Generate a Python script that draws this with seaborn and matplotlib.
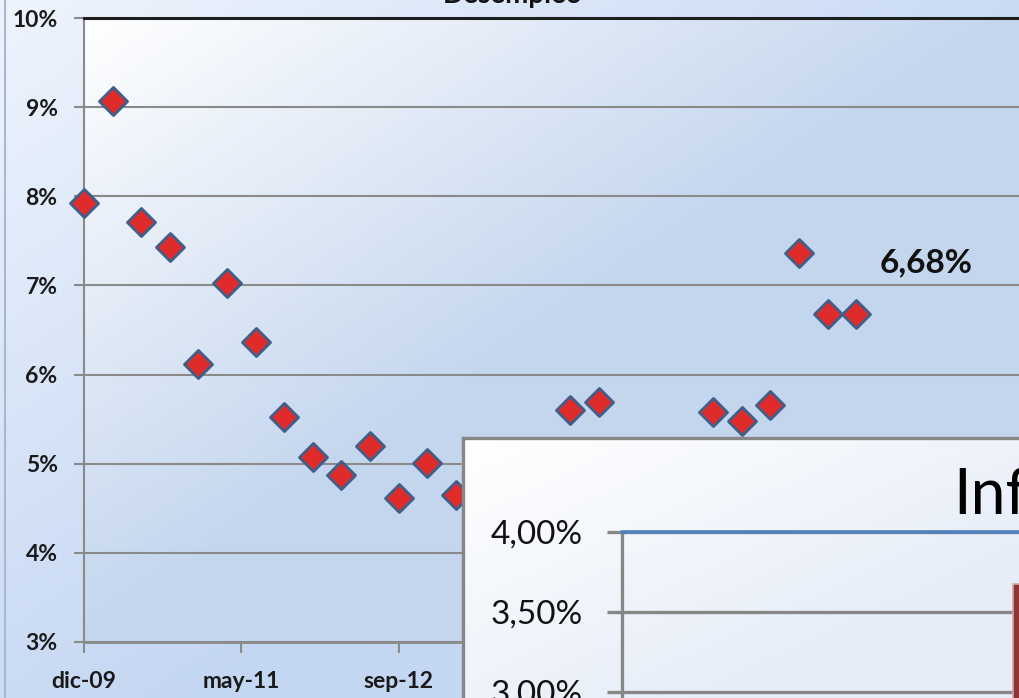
import numpy as np
import pandas as pd
import matplotlib
matplotlib.use("Agg")
import matplotlib.pyplot as plt
import seaborn as sns
from matplotlib.colors import LinearSegmentedColormap
from matplotlib.lines import Line2D

# datos (trimestral desde dic-09; los ocultos por el recuadro = NaN)
trimestre = list(range(28))
desempleo = [7.93, 9.07, 7.71, 7.43, 6.12, 7.03, 6.37, 5.52, 5.07, 4.87,
             5.20, 4.62, 5.01, 4.65, np.nan, np.nan, np.nan, 5.60, 5.69, np.nan,
             np.nan, np.nan, 5.58, 5.48, 5.66, 7.36, 6.68, 6.68]
pos_ticks_x = [0, 5.5, 11]
etiquetas_x = ["dic-09", "may-11", "sep-12"]
ticks_y = [3, 4, 5, 6, 7, 8, 9, 10]

# grafico de inflacion (solo se ve una parte)
inflacion_mes = ["dic-09"]
inflacion = [3.675]
meta_superior = 4.0
ticks_inf = [3.0, 3.5, 4.0]

df = pd.DataFrame({"trimestre": trimestre, "desempleo": desempleo})

sns.set_style("white")
plt.rcParams["font.family"] = ["Lato", "DejaVu Sans"]

W, H = 1019, 698
fig = plt.figure(figsize=(W / 100, H / 100), dpi=100)

def gradiente(ax, c0, c1, escala=1.0):
    u, v = np.meshgrid(np.linspace(0, 1, 200), np.linspace(1, 0, 200))
    t = np.clip((u + (1 - v)) / escala, 0, 1)
    cmap = LinearSegmentedColormap.from_list("g", [c0, c1])
    ax.imshow(t, extent=[0, 1, 0, 1], aspect="auto", cmap=cmap, vmin=0, vmax=1,
              origin="upper")
    ax.set_xlim(0, 1)
    ax.set_ylim(0, 1)
    ax.axis("off")

# fondo de la figura
bg = fig.add_axes([0, 0, 1, 1], zorder=-10)
gradiente(bg, "#eef4fd", "#c3d6f2", 1.2)
fig.add_artist(Line2D([5 / W, 5 / W], [0, 1], color="#a7b8d2", lw=1.5))

# area de trazado
rect = [84 / W, 1 - 642 / H, 1 - 84 / W, (642 - 18) / H]
bgp = fig.add_axes(rect, zorder=-5)
gradiente(bgp, "#ffffff", "#c4d6ee", 1.0)

ax = fig.add_axes(rect, zorder=0)
ax.set_facecolor("none")
sns.scatterplot(data=df, x="trimestre", y="desempleo", ax=ax, marker="D", s=205,
                color="#e02b2b", edgecolor="#3f5f8a", linewidth=2, zorder=3,
                clip_on=False, legend=False)
ax.set_xlim(0, (W - 84) / 28.6)
ax.set_ylim(3, 10)
ax.set_yticks(ticks_y, [f"{v}%" for v in ticks_y])
ax.set_xticks(pos_ticks_x, etiquetas_x)
ax.set_xlabel("")
ax.set_ylabel("")
ax.yaxis.grid(True, color="#8a8a8a", lw=1.5)
ax.set_axisbelow(True)
ax.spines["right"].set_visible(False)
ax.spines["top"].set_color("#1e1e1e")
ax.spines["top"].set_linewidth(2.2)
ax.spines["left"].set_color("#8a8a8a")
ax.spines["left"].set_linewidth(1.5)
ax.spines["bottom"].set_color("#8a8a8a")
ax.spines["bottom"].set_linewidth(2)
ax.tick_params(axis="y", direction="out", length=7, width=1.5, color="#8a8a8a",
               pad=12, labelsize=16.5, labelcolor="#1a1a1a", left=True)
ax.tick_params(axis="x", direction="out", length=8, width=1.5, color="#8a8a8a",
               pad=13, labelsize=16.5, labelcolor="#1a1a1a", bottom=True)
for t in ax.get_xticklabels() + ax.get_yticklabels():
    t.set_fontweight("bold")

ultimo = desempleo[-1]
ax.annotate(f"{ultimo:.2f}%".replace(".", ","), xy=(trimestre[-1], ultimo),
            xytext=(50, 37), textcoords="offset points", ha="center", va="center",
            fontsize=24, fontweight="bold", color="#111111")

fig.text(513 / W, 1 - 3 / H, "Desempleo", ha="center", va="baseline",
         fontsize=20, fontweight="bold", color="#111111")

# recuadro del grafico de inflacion
box = fig.add_axes([463 / W, 0, 1 - 463 / W, (H - 438) / H], zorder=5)
gradiente(box, "#ffffff", "#e6edf8", 1.5)
box.axis("on")
box.set_xticks([])
box.set_yticks([])
for lado in ["right", "bottom"]:
    box.spines[lado].set_visible(False)
for lado in ["left", "top"]:
    box.spines[lado].set_color("#878787")
    box.spines[lado].set_linewidth(2.4)

ins = fig.add_axes([622 / W, 0, 1 - 622 / W, 1 - 532 / H], zorder=6)
ins.set_facecolor("none")
ins.bar(inflacion_mes, inflacion, width=0.8, color="#8e3535", edgecolor="#d7a3a3",
        linewidth=1.2, zorder=3)
ins.axhline(meta_superior, color="#4f81bd", lw=2.6, clip_on=False, zorder=4)
ins.set_xlim(-4.34, -0.34)
ins.set_ylim(4.0 - (H - 532) / 160, 4.0)
ins.set_xticks([])
ins.set_yticks(ticks_inf, [f"{v:.2f}%".replace(".", ",") for v in ticks_inf])
ins.yaxis.grid(True, color="#878787", lw=2.4)
ins.set_axisbelow(True)
for lado in ["right", "bottom", "top"]:
    ins.spines[lado].set_visible(False)
ins.spines["left"].set_color("#878787")
ins.spines["left"].set_linewidth(2.4)
ins.tick_params(axis="y", direction="out", length=11, width=2.4, color="#878787",
                pad=17, labelsize=24, labelcolor="#111111", left=True)

fig.text(953 / W, 1 - 514 / H, "Inflación", ha="left", va="baseline",
         fontsize=45, color="#000000", zorder=10)

fig.savefig("out.png", dpi=100)
